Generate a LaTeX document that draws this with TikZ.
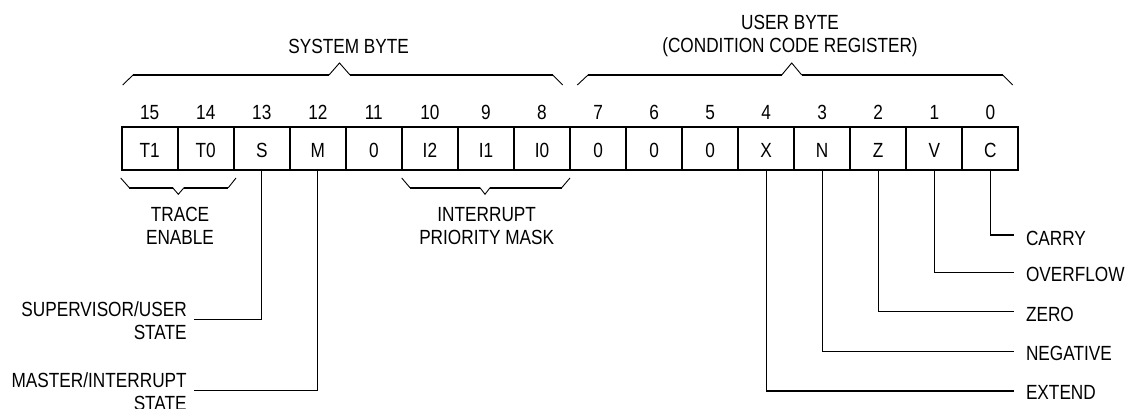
\documentclass[tikz,border=0pt]{standalone}
\usepackage{fontspec}
\setmainfont{Liberation Sans}[FakeStretch=0.84]
\begin{document}
\begin{tikzpicture}[x=1pt,y=-1pt,
  txt/.style={font=\fontsize{20.5}{23}\selectfont, inner sep=0pt, outer sep=0pt},
  bitbox/.style={draw, line width=2pt, minimum width=56.04pt, minimum height=43.3pt,
    inner sep=0pt, outer sep=0pt, text height=18.4pt, text depth=0pt,
    font=\fontsize{20.5}{23}\selectfont},
  num/.style={txt, anchor=base},
  conn/.style={line width=1.3pt},
  bthin/.style={line width=0.9pt},
  bthick/.style={line width=2.2pt}]
\useasboundingbox (0,0) rectangle (1127,409);

% register cells and bit numbers
\foreach \lab [count=\i from 0] in {T1,T0,S,M,0,I2,I1,I0,0,0,0,X,N,Z,V,C} {
  \pgfmathtruncatemacro\bit{15-\i}
  \node[bitbox] (b\bit) at ({121.7+56.04*(\i+0.5)},148.35) {\lab};
  \node[num] (n\bit) at ({121.7+56.04*(\i+0.5)},119.5) {\bit};
}

% system byte brace
\draw[bthin] (122.7,85) -- (133,75);
\draw[bthick] (133,75) -- (329,75);
\draw[bthin] (329,75) -- (339.5,63) -- (350,75);
\draw[bthick] (350,75) -- (552.7,75);
\draw[bthin] (552.7,75) -- (562.7,85);

% user byte brace
\draw[bthin] (577.3,85) -- (588,75);
\draw[bthick] (588,75) -- (781.7,75);
\draw[bthin] (781.7,75) -- (791.7,63) -- (801.7,75);
\draw[bthick] (801.7,75) -- (1002.7,75);
\draw[bthin] (1002.7,75) -- (1012.7,85);

% trace enable brace
\draw[bthin] (120.7,178) -- (129.3,187.7);
\draw[bthick] (129.3,187.7) -- (172.7,187.7);
\draw[bthin] (172.7,187.7) -- (178.3,194.3) -- (184,187.7);
\draw[bthick] (184,187.7) -- (228.3,187.7);
\draw[bthin] (228.3,187.7) -- (236,178);

% interrupt priority mask brace
\draw[bthin] (401.7,178) -- (410,187.7);
\draw[bthick] (410,187.7) -- (480,187.7);
\draw[bthin] (480,187.7) -- (485,194.3) -- (490,187.7);
\draw[bthick] (490,187.7) -- (561.7,187.7);
\draw[bthin] (561.7,187.7) -- (570,178);

% group labels
\node[txt, anchor=base] (sysl) at (348.7,53.3) {SYSTEM BYTE};
\node[txt, anchor=base] (userl) at (790,30)
  {\begin{tabular}[t]{@{}c@{}}USER BYTE\\(CONDITION CODE REGISTER)\end{tabular}};
\node[txt, anchor=base] (tracel) at (180,221.7)
  {\begin{tabular}[t]{@{}c@{}}TRACE\\ENABLE\end{tabular}};
\node[txt, anchor=base] (intl) at (486.7,221.7)
  {\begin{tabular}[t]{@{}c@{}}INTERRUPT\\PRIORITY MASK\end{tabular}};

% left flag labels
\node[txt, anchor=base east] (supl) at (186.7,316.7)
  {\begin{tabular}[t]{@{}r@{}}SUPERVISOR/USER\\STATE\end{tabular}};
\node[txt, anchor=base east] (masl) at (186.7,387.7)
  {\begin{tabular}[t]{@{}r@{}}MASTER/INTERRUPT\\STATE\end{tabular}};
\coordinate (supend) at (194,319.3);
\coordinate (masend) at (194,390.7);
\draw[conn] (b13.south) |- (supend);
\draw[conn] (b12.south) |- (masend);

% right flag labels
\node[txt, anchor=base west] (carl) at (1026,245) {CARRY};
\node[txt, anchor=base west] (ovfl) at (1026,281.7) {OVERFLOW};
\node[txt, anchor=base west] (zerl) at (1026,321.7) {ZERO};
\node[txt, anchor=base west] (negl) at (1026,360) {NEGATIVE};
\node[txt, anchor=base west] (extl) at (1026,399.3) {EXTEND};
\coordinate (carend) at (1014,235);
\coordinate (ovfend) at (1014,272.7);
\coordinate (zerend) at (1014,311.7);
\coordinate (negend) at (1014,351.7);
\coordinate (extend) at (1014,391);
\draw[conn] (b0.south) |- (carend);
\draw[conn] (b1.south) |- (ovfend);
\draw[conn] (b2.south) |- (zerend);
\draw[conn] (b3.south) |- (negend);
\draw[conn] (b4.south) |- (extend);
\end{tikzpicture}
\end{document}
